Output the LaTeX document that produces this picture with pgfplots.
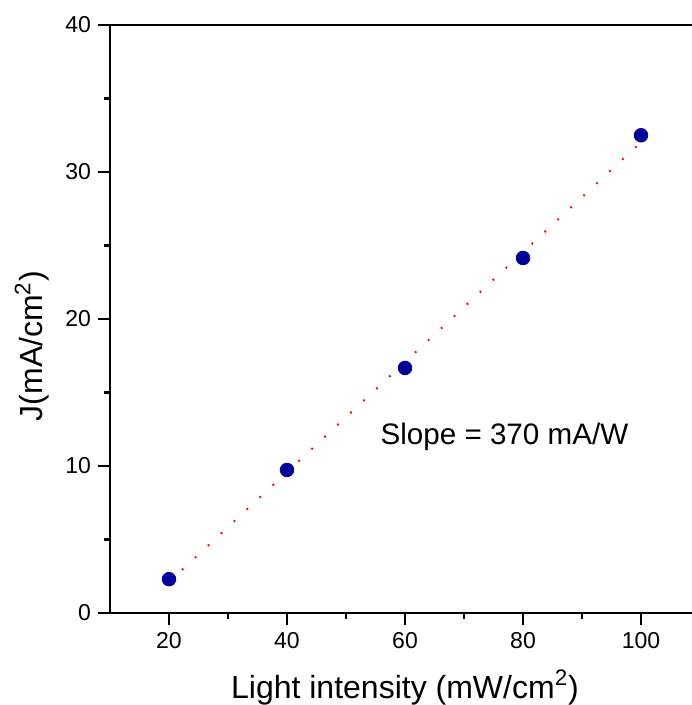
\documentclass[border=0pt]{standalone}
\usepackage{fontspec}
\setmainfont{Liberation Sans}
\usepackage{pgfplots}
\pgfplotsset{compat=1.18}

\definecolor{markblue}{RGB}{0,0,153}

\begin{document}
\begin{tikzpicture}
% crop like the reference: right spine falls outside the picture
\useasboundingbox (-55pt,-46pt) rectangle (290.5pt,306.5pt);
\begin{axis}[
    scale only axis, width=295pt, height=294pt,
    xmin=10, xmax=110, ymin=0, ymax=40,
    xtick={20,40,60,80,100}, ytick={0,10,20,30,40},
    minor x tick num=1, minor y tick num=1,
    xtick pos=bottom, ytick pos=left,
    tick align=outside,
    major tick length=6pt, minor tick length=3pt,
    axis line style={line width=1.4pt},
    every tick/.style={line width=1.3pt, black},
    /pgf/number format/assume math mode=true,
    ticklabel style={font=\fontsize{11.5}{13}\selectfont},
    xlabel={Light intensity (mW/cm\textsuperscript{2})},
    ylabel={J(mA/cm\textsuperscript{2})},
    xlabel style={font=\fontsize{16}{18}\selectfont, at={(axis description cs:0.5,-0.1446)}, anchor=base},
    ylabel style={font=\fontsize{16}{18}\selectfont, at={(axis description cs:-0.1136,0.454)}, anchor=base},
    clip=false,
]
\addplot[only marks, mark=*, mark size=3.4pt, color=markblue]
    coordinates {(20,2.3)(40,9.73)(60,16.67)(80,24.15)(100,32.5)};
\addplot[red, line width=1pt, dash pattern=on 0.9pt off 7.95pt]
    coordinates {(20,2.11)(100,32.03)};
\node[anchor=west, inner sep=0pt, font=\fontsize{14.8}{17}\selectfont] at (axis cs:55.8,12) {Slope = 370 mA/W};
\end{axis}
\end{tikzpicture}
\end{document}
